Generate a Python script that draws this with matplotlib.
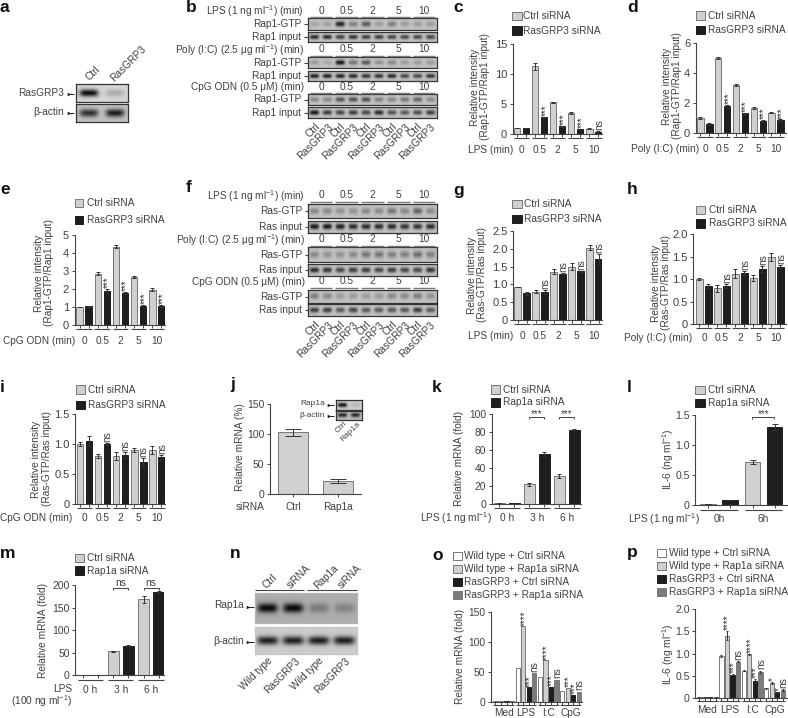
import numpy as np
import matplotlib
matplotlib.use('Agg')
import matplotlib.pyplot as plt
from matplotlib.patches import Rectangle

plt.rcParams['font.family'] = ['Liberation Sans', 'DejaVu Sans']
plt.rcParams['mathtext.default'] = 'regular'

TXT = '#404040'
FS = 7.3
W, H = 788, 718

# ---------- data ----------
groups_min = ['0', '0.5', '2', '5', '10']
c_ctrl = [1.0, 11.3, 5.3, 3.5, 0.9]; c_si = [1.0, 2.8, 1.3, 0.85, 0.4]
c_ctrl_e = [0.05, 0.6, 0.1, 0.1, 0.05]; c_si_e = [0.05, 0.1, 0.1, 0.05, 0.05]
d_ctrl = [1.0, 5.0, 3.2, 1.65, 1.35]; d_si = [0.6, 1.8, 1.3, 0.8, 0.85]
d_ctrl_e = [0.05, 0.08, 0.04, 0.08, 0.06]; d_si_e = [0.05, 0.05, 0.05, 0.05, 0.05]
e_ctrl = [1.0, 2.85, 4.35, 2.65, 1.95]; e_si = [1.03, 1.9, 1.8, 1.08, 1.05]
e_ctrl_e = [0.02, 0.07, 0.08, 0.05, 0.08]; e_si_e = [0.02, 0.1, 0.06, 0.04, 0.06]
g_ctrl = [0.93, 0.8, 1.35, 1.5, 2.02]; g_si = [0.75, 0.78, 1.3, 1.37, 1.7]
g_ctrl_e = [0.01, 0.04, 0.07, 0.09, 0.07]; g_si_e = [0.05, 0.06, 0.01, 0.01, 0.14]
h_ctrl = [1.0, 0.8, 1.12, 1.03, 1.5]; h_si = [0.85, 0.85, 1.14, 1.23, 1.28]
h_ctrl_e = [0.02, 0.08, 0.1, 0.07, 0.09]; h_si_e = [0.05, 0.05, 0.05, 0.07, 0.03]
i_ctrl = [1.0, 0.8, 0.8, 0.9, 0.9]; i_si = [1.05, 1.0, 0.82, 0.7, 0.78]
i_ctrl_e = [0.03, 0.04, 0.07, 0.04, 0.06]; i_si_e = [0.08, 0.02, 0.05, 0.07, 0.04]
c_marks = [None, '***', '***', '***', 'ns']
d_marks = [None, '***', '***', '***', '***']
e_marks = [None, '***', '***', '***', '***']
g_marks = [None, 'ns', 'ns', 'ns', 'ns']
h_marks = [None, 'ns', 'ns', 'ns', 'ns']
i_marks = [None, 'ns', 'ns', 'ns', 'ns']
j_vals = [103, 21]; j_err = [6, 3]; j_labels = ['Ctrl', 'Rap1a']
k_ctrl = [0.7, 22, 31.5]; k_si = [0.7, 55.5, 83]
k_ctrl_e = [0.2, 1.5, 2.5]; k_si_e = [0.2, 2, 1]
l_ctrl = [0.01, 0.72]; l_si = [0.08, 1.3]
l_ctrl_e = [0.0, 0.03]; l_si_e = [0.0, 0.05]
m_ctrl = [1, 53, 169]; m_si = [1, 66, 186]
m_ctrl_e = [0.5, 2, 8]; m_si_e = [0.5, 1.5, 2]
hours = ['0 h', '3 h', '6 h']
stim = ['Med', 'LPS', 'I:C', 'CpG']
o_vals = [[1, 1, 1, 1], [56, 126, 24, 48], [42, 69, 25, 37], [18, 23, 11, 17]]
o_marks = [[None]*4, [None, '****', '***', 'ns'], [None, '****', '***', 'ns'], [None, '***', '***', 'ns']]
p_vals = [[.02, .02, .02, .02], [.95, 1.4, .53, .82], [.62, .98, .39, .59], [.22, .34, .13, .18]]
p_err = [[0, 0, 0, 0], [.02, .1, .02, .02], [.02, .02, .04, .03], [.02, .02, .02, .02]]
p_marks = [[None]*4, [None, '****', '***', 'ns'], [None, '****', '***', 'ns'], [None, '*', '*', 'ns']]

# blot band intensities
a_rows = [[0.95, 0.2], [0.75, 0.85]]
b_rows = [
    [.15, .18, .85, .35, .55, .2, .35, .2, .2, .2], [.8, .8, .7, .75, .7, .7, .65, .65, .65, .65],
    [.2, .12, .9, .4, .55, .25, .3, .2, .2, .2], [.85, .85, .85, .8, .75, .75, .8, .65, .65, .75],
    [.3, .3, .6, .6, .6, .35, .3, .4, .5, .3], [.9, .7, .65, .7, .65, .8, .6, .55, .6, .7]]
f_rows = [
    [.3, .3, .25, .25, .3, .3, .4, .3, .5, .3], [.9, .9, .85, .8, .8, .8, .8, .75, .75, .8],
    [.3, .25, .25, .3, .4, .4, .35, .35, .45, .35], [.8, .75, .65, .7, .7, .65, .7, .65, .65, .75],
    [.35, .3, .2, .2, .2, .2, .3, .3, .35, .25], [.7, .7, .55, .65, .55, .55, .55, .55, .7, .55]]
j_rows = [[.9, .1], [.8, .8]]
n_rows = [[.95, .95, .3, .25], [.85, .85, .85, .85]]
lane_labels = ['Ctrl', 'RasGRP3'] * 5
blot_heads = ['LPS (1 ng ml$^{-1}$) (min)', 'Poly (I:C) (2.5 μg ml$^{-1}$) (min)', 'CpG ODN (0.5 μM) (min)']

fig = plt.figure(figsize=(W/100, H/100), dpi=100)
ov = fig.add_axes([0, 0, 1, 1], zorder=5)
ov.set_xlim(0, W); ov.set_ylim(H, 0); ov.axis('off'); ov.patch.set_alpha(0)


def T(x, y, s, ha='left', va='center', fs=FS, rot=0, **kw):
    ov.text(x, y, s, ha=ha, va=va, fontsize=fs, rotation=rot, color=kw.pop('color', TXT),
            rotation_mode='anchor', **kw)


def L(xs, ys, lw=0.8, c='#444444'):
    ov.plot(xs, ys, color=c, lw=lw, solid_capstyle='butt')


def letter(x, y, s):
    T(x, y, s, fs=12.5, fontweight='bold', color='#111111')


CT, SI = '#d0d0d0', '#1e1e1e'
WT, GR = '#ffffff', '#7c7c7c'


def legend(x0, w, h, ys, tx, labels, colors):
    for y, lab, col in zip(ys, labels, colors):
        ov.add_patch(Rectangle((x0, y-h/2), w, h, fc=col, ec='#777777' if col != SI else SI, lw=0.7))
        T(tx, y, lab)


def bars(x0, x1, ytop, ybot, ymax, yticks, yfmt, first, step, gstep, bw, series, errs,
         colors, labels=None, labx=None, title=None, marks=None, ul=4, laby=16, tfs=8.0, cap=1.6):
    ax = fig.add_axes([x0/W, 1-ybot/H, (x1-x0)/W, (ybot-ytop)/H])
    ax.set_xlim(x0, x1); ax.set_ylim(0, ymax)
    ax.patch.set_alpha(0)
    for s in ('top', 'right'):
        ax.spines[s].set_visible(False)
    for s in ('left', 'bottom'):
        ax.spines[s].set_linewidth(0.8); ax.spines[s].set_color('#444444')
    ng = len(series[0]); ns = len(series)
    centres = []
    for k in range(ns):
        xs = [first + g*gstep + k*step for g in range(ng)]
        centres.append(xs)
        ax.bar(xs, series[k], width=bw, color=colors[k],
               edgecolor=colors[k] if colors[k] == SI else '#777777', linewidth=0.7)
        if errs is not None:
            ax.errorbar(xs, series[k], yerr=errs[k], fmt='none', ecolor='#333333',
                        elinewidth=0.7, capsize=cap, capthick=0.7)
    ax.set_xticks([x for c in centres for x in c])
    ax.set_xticklabels([])
    ax.set_yticks(yticks); ax.set_yticklabels([yfmt(v) for v in yticks])
    ax.tick_params(axis='x', length=1.8, width=0.7, color='#444444')
    ax.tick_params(axis='y', length=2.5, width=0.7, color='#444444', labelsize=tfs,
                   labelcolor=TXT, pad=1.5)
    for g in range(ng):
        a = centres[0][g]-bw/2; b = centres[-1][g]+bw/2
        if ul is not None:
            L([a, b], [ybot+ul, ybot+ul])
        if labels is not None:
            T((a+b)/2, ybot+laby, labels[g], ha='center')
    if title:
        T(labx, ybot+laby, title, ha='right')
    if marks is not None:
        for g in range(ng):
            for k in range(ns):
                m = marks[k][g]
                if not m:
                    continue
                top = series[k][g] + (errs[k][g] if errs is not None else 0)
                if m == 'ns':
                    ax.annotate(m, (centres[k][g], top), xytext=(0.3, 0.8),
                                textcoords='offset points', rotation=90, ha='center', va='bottom',
                                fontsize=FS, color=TXT, annotation_clip=False)
                else:
                    ax.annotate(m, (centres[k][g], top), xytext=(1.0, 0.5),
                                textcoords='offset points', rotation=90, ha='center', va='bottom',
                                fontsize=7, color='#333333', annotation_clip=False)
    return centres


def blot(x0, x1, y0, y1, vals, bg=0.76, wx=0.36, wy=0.22, border='#333333'):
    ax = fig.add_axes([x0/W, 1-y1/H, (x1-x0)/W, (y1-y0)/H])
    nx, ny = int((x1-x0)*3), max(int((y1-y0)*3), 12)
    xx, yy = np.meshgrid((np.arange(nx)+.5)/nx*len(vals), (np.arange(ny)+.5)/ny)
    im = np.full(xx.shape, bg, float)
    for i, v in enumerate(vals):
        d = np.exp(-((xx-i-.5)/wx)**4 - ((yy-.5)/wy)**2)
        im -= v*bg*d
    ax.imshow(np.clip(im, 0, 1), cmap='gray', vmin=0, vmax=1, aspect='auto', interpolation='bilinear')
    ax.set_xticks([]); ax.set_yticks([])
    for s in ax.spines.values():
        s.set_color(border); s.set_linewidth(0.9)


def arrow(x0, x1, y):
    L([x0, x1], [y, y], lw=0.7, c='#222222')
    ov.plot([x0+1.2], [y], marker='>', ms=2.6, color='#222222', mew=0)


def bracket(a, b, y, h=2.5):
    L([a, a, b, b], [y+h, y, y, y+h], lw=0.7)


def blot_panel(x0, x1, rows_y, rows, head_y, row_names, text_x, lane_y):
    step = (x1-x0)/10
    for (y0, y1), vals, nm in zip(rows_y, rows, row_names):
        blot(x0, x1, y0, y1, vals)
        T(text_x, (y0+y1)/2, nm, ha='right')
        L([text_x+3, x0], [(y0+y1)/2]*2, lw=0.8)
    for hy, h in zip(head_y, blot_heads):
        T(text_x+3, hy, h, ha='right')
        for g, lab in enumerate(groups_min):
            a = x0+g*2*step+1.5; b = x0+(g+1)*2*step-1.5
            T((a+b)/2, hy-0.5, lab, ha='center')
            L([a, b], [hy+5.5, hy+5.5], lw=1.0, c='#777777')
    for i, lab in enumerate(lane_labels):
        T(x0+(i+.5)*step+3.5, lane_y, lab, ha='right', rot=45)


def rel(x, y, s):
    T(x, y, s, ha='center', rot=90, linespacing=1.05)


fmt_int = lambda v: f'{v:g}'
fmt_1 = lambda v: '0' if v == 0 else f'{v:.1f}'

# ---------- a ----------
letter(0, 8, 'a')
blot(76, 128, 84, 102, a_rows[0], bg=0.84, wy=0.2)
blot(76, 128, 104, 122, a_rows[1], bg=0.76, wy=0.22)
T(64, 93, 'RasGRP3', ha='right'); T(64, 112, 'β-actin', ha='right')
arrow(68, 74, 94); arrow(68, 74, 113)
T(87, 79, 'Ctrl', rot=45); T(112, 80, 'RasGRP3', rot=45)

# ---------- b ----------
letter(186, 7, 'b')
blot_panel(308.3, 436.7, [(18.3, 30), (32, 42), (57, 68), (71, 81), (94, 105), (107, 118)],
           b_rows, [11, 50, 87], ['Rap1-GTP', 'Rap1 input']*3, 301, 125)
# ---------- f ----------
letter(186, 188, 'f')
blot_panel(308.3, 436.7, [(204, 218), (220.7, 233.3), (247.3, 261.7), (264, 276), (290, 303.3), (304, 316)],
           f_rows, [196, 240, 282], ['Ras-GTP', 'Ras input']*3, 302, 323)

two = ['Ctrl siRNA', 'RasGRP3 siRNA']
rap = ['Ctrl siRNA', 'Rap1a siRNA']
cols2 = [CT, SI]

# ---------- c ----------
letter(453, 7, 'c')
legend(512, 9.6, 8.5, [16, 30.5], 523.3, two, cols2)
rel(480, 87, 'Relative intensity\n(Rap1-GTP/Rap1 input)')
bars(512.7, 602, 44, 134, 15, [0, 5, 10, 15], fmt_int, 517, 9, 18.1, 6.4, [c_ctrl, c_si], [c_ctrl_e, c_si_e],
     cols2, groups_min, 513, 'LPS (min)', [[None]*5, c_marks])

# ---------- d ----------
letter(627, 7, 'd')
legend(696, 9, 8.5, [15.7, 30], 708, two, cols2)
rel(672, 86, 'Relative intensity\n(Rap1-GTP/Rap1 input)')
bars(695.7, 786, 43.3, 132.7, 6, [0, 2, 4, 6], fmt_int, 700.5, 9, 17.75, 6.4, [d_ctrl, d_si], [d_ctrl_e, d_si_e],
     cols2, groups_min, 699, 'Poly (I:C) (min)', [[None]*5, d_marks])

# ---------- e ----------
letter(0, 190, 'e')
legend(75, 8.5, 8, [203.3, 220], 86.7, two, cols2)
rel(44, 273, 'Relative intensity\n(Rap1-GTP/Rap1 input)')
bars(74.7, 165, 235, 325, 5, [0, 1, 2, 3, 4, 5], fmt_int, 79.5, 9, 18.2, 6.4, [e_ctrl, e_si], [e_ctrl_e, e_si_e],
     cols2, groups_min, 75, 'CpG ODN (min)', [[None]*5, e_marks])

# ---------- g ----------
letter(453, 190, 'g')
legend(512.3, 9.4, 8.5, [204, 219], 523.7, two, cols2)
rel(477, 275, 'Relative intensity\n(Ras-GTP/Ras input)')
bars(513.3, 602, 230.7, 320.3, 2.5, [0, .5, 1, 1.5, 2, 2.5], fmt_1, 517.5, 9, 18, 6.4, [g_ctrl, g_si], [g_ctrl_e, g_si_e],
     cols2, groups_min, 513, 'LPS (min)', [[None]*5, g_marks])

# ---------- h ----------
letter(627, 190, 'h')
legend(695.7, 9.4, 8.5, [210, 223.3], 709, two, cols2)
rel(661, 283, 'Relative intensity\n(Ras-GTP/Ras input)')
bars(693.3, 786, 234.3, 324.3, 2, [0, .5, 1, 1.5, 2], fmt_1, 699.5, 9, 18, 6.4, [h_ctrl, h_si], [h_ctrl_e, h_si_e],
     cols2, groups_min, 692, 'Poly (I:C) (min)', [[None]*5, h_marks], laby=14)

# ---------- i ----------
letter(0, 387, 'i')
legend(75.7, 9.3, 8.5, [389.7, 405], 88.3, two, cols2)
rel(41.5, 459, 'Relative intensity\n(Ras-GTP/Ras input)')
bars(75.3, 165, 414, 504, 1.5, [0, .5, 1, 1.5], fmt_1, 80, 9, 18.1, 6.4, [i_ctrl, i_si], [i_ctrl_e, i_si_e],
     cols2, groups_min, 72, 'CpG ODN (min)', [[None]*5, i_marks], laby=14)

# ---------- j ----------
letter(230, 385, 'j')
rel(240, 447, 'Relative mRNA (%)')
bars(270, 360.7, 404, 493.7, 150, [0, 50, 100, 150], fmt_int, 292.7, 45, 0, 30.3,
     [[j_vals[0]], [j_vals[1]]], [[j_err[0]], [j_err[1]]], [CT, CT], ul=None, tfs=7.5, cap=5.8)
T(293, 507, j_labels[0], ha='center'); T(338, 507, j_labels[1], ha='center')
T(236, 507, 'siRNA')
blot(336, 361.7, 400, 410, j_rows[0], bg=0.8)
blot(336, 361.7, 410.7, 420, j_rows[1], bg=0.74)
T(325, 403.7, 'Rap1a', ha='right', fs=6); T(325, 415.5, 'β-actin', ha='right', fs=6)
arrow(328, 334, 404.5); arrow(328, 334, 416)
T(346, 423, 'Ctrl', ha='right', rot=45, fs=6); T(359, 423, 'Rap1a', ha='right', rot=45, fs=6)

# ---------- k ----------
letter(432, 387, 'k')
legend(491, 9.5, 8.5, [389.7, 402.3], 503, rap, cols2)
rel(459, 459, 'Relative mRNA (fold)')
ck = bars(491.7, 581, 414.3, 504, 100, [0, 20, 40, 60, 80, 100], fmt_int, 499.5, 15, 30, 10.3, [k_ctrl, k_si], [k_ctrl_e, k_si_e],
          cols2, hours, 492, 'LPS (1 ng ml$^{-1}$)', ul=3.5, laby=14, tfs=7.4)
for g in (1, 2):
    bracket(ck[0][g], ck[1][g], 416.5)
    T((ck[0][g]+ck[1][g])/2, 414, '***', ha='center', fs=7)

# ---------- l ----------
letter(627, 387, 'l')
legend(695, 9.6, 8.5, [390, 403], 707.7, rap, cols2)
rel(668, 459, 'IL-6 (ng ml$^{-1}$)')
cl = bars(695.3, 787, 415.3, 504.7, 1.5, [0, .5, 1, 1.5], fmt_1, 708, 22, 44.5, 15.6, [l_ctrl, l_si], [l_ctrl_e, l_si_e],
          cols2, ['0h', '6h'], 700, 'LPS (1 ng ml$^{-1}$)', ul=5.5, laby=14, tfs=7.6, cap=2.2)
bracket(cl[0][1], cl[1][1], 416.5)
T((cl[0][1]+cl[1][1])/2, 414, '***', ha='center', fs=7)

# ---------- m ----------
letter(0, 553, 'm')
legend(75, 9, 8.5, [558, 570.7], 87, rap, cols2)
rel(43, 630, 'Relative mRNA (fold)')
cm = bars(75.3, 164, 585.3, 675.3, 200, [0, 50, 100, 150, 200], fmt_int, 83, 15, 30.3, 10.4, [m_ctrl, m_si], [m_ctrl_e, m_si_e],
          cols2, hours, ul=4.5, laby=14.5, tfs=7.5)
T(72, 689.5, 'LPS', ha='right')
T(72, 701, '(100 ng ml$^{-1}$)', ha='right')
for g in (1, 2):
    bracket(cm[0][g], cm[1][g], 587.7)
    T((cm[0][g]+cm[1][g])/2, 582.5, 'ns', ha='center')

# ---------- n ----------
letter(230, 553, 'n')
blot(255, 357, 592.7, 622.7, n_rows[0], bg=0.68, wy=0.16, wx=0.4, border='#b5b5b5')
blot(255, 357, 627, 654, n_rows[1], bg=0.8, wy=0.16, wx=0.42, border='#c5c5c5')
L([255, 304], [589.7, 589.7]); L([307, 357], [589.7, 589.7])
for x, s in zip([264, 289, 316, 340], ['Ctrl', 'siRNA', 'Rap1a', 'siRNA']):
    T(x, 587, s, rot=45)
for x, s in zip([271, 298, 322, 348], ['Wild type', 'RasGRP3', 'Wild type', 'RasGRP3']):
    T(x, 659, s, ha='right', rot=45)
T(244, 605, 'Rap1a', ha='right'); T(244, 641, 'β-actin', ha='right')
arrow(247, 254, 607); arrow(247, 254, 642)

# ---------- o ----------
four = ['Wild type + Ctrl siRNA', 'Wild type + Rap1a siRNA', 'RasGRP3 + Ctrl siRNA', 'RasGRP3 + Rap1a siRNA']
cols4 = [WT, CT, SI, GR]
letter(432, 555, 'o')
legend(452.7, 9, 8, [556.3, 569.3, 582.3, 595], 464.3, four, cols4)
rel(460, 656, 'Relative mRNA (fold)')
s_o = [list(v) for v in zip(*o_vals)]
mo = [list(v) for v in zip(*o_marks)]
bars(491, 582, 612, 701.7, 150, [0, 50, 100, 150], fmt_int, 495.5, 5.55, 22.2, 4.2, s_o, None, cols4, stim, marks=mo,
     ul=3, laby=11.5, tfs=7.4)

# ---------- p ----------
letter(627, 553, 'p')
legend(656.7, 9, 8, [552.7, 565.7, 578.7, 591.7], 669.3, four, cols4)
rel(668, 654, 'IL-6 (ng ml$^{-1}$)')
s_p = [list(v) for v in zip(*p_vals)]
e_p = [list(v) for v in zip(*p_err)]
mp = [list(v) for v in zip(*p_marks)]
bars(695.3, 787, 608.7, 698.3, 2, [0, .5, 1, 1.5, 2], fmt_1, 699, 5.55, 22.4, 4.2, s_p, e_p, cols4, stim, marks=mp,
     ul=3, laby=11.5, tfs=7.6, cap=1.0)

fig.savefig('out.png', dpi=100)
